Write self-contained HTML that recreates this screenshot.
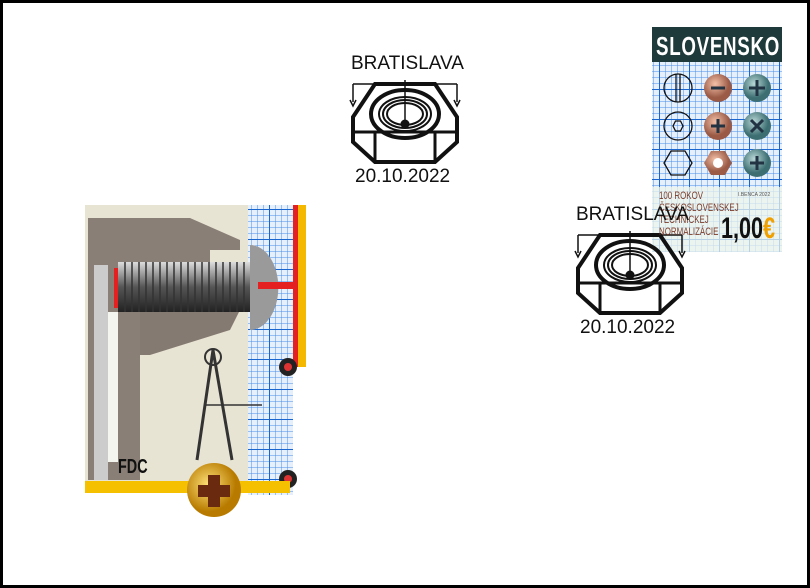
<!DOCTYPE html>
<html><head><meta charset="utf-8"><style>
body{margin:0;width:810px;height:588px;overflow:hidden;background:#000}
#c{position:absolute;left:3px;top:3px;width:804px;height:582px;background:#fff}
.t{position:absolute;font-family:"Liberation Sans",sans-serif;font-size:19px;color:#111;white-space:nowrap}
.n{transform-origin:0 0;transform:scaleX(.72)}
</style></head><body><div id="c"></div>
<svg width="810" height="588" style="position:absolute;left:0;top:0">
<defs>
<pattern id="g" width="6" height="6" patternUnits="userSpaceOnUse"><rect width="6" height="6" fill="#e6f0fc"/><path d="M6 0V6H0" fill="none" stroke="#4a8ee6" stroke-width="1"/></pattern>
<pattern id="G" width="30" height="30" patternUnits="userSpaceOnUse"><rect width="30" height="30" fill="url(#g)"/><path d="M30 0V30H0" fill="none" stroke="#1a66d0" stroke-width="2"/></pattern>
<linearGradient id="th" x1="0" y1="0" x2="0" y2="1"><stop offset="0" stop-color="#ddd"/><stop offset=".5" stop-color="#555"/><stop offset="1" stop-color="#222"/></linearGradient>
<radialGradient id="gold" cx=".4" cy=".4"><stop offset="0" stop-color="#ffe27a"/><stop offset="1" stop-color="#b87b00"/></radialGradient>
<radialGradient id="cu" cx=".4" cy=".35"><stop offset="0" stop-color="#f4c0a8"/><stop offset="1" stop-color="#9a5a45"/></radialGradient>
<radialGradient id="tl" cx=".4" cy=".35"><stop offset="0" stop-color="#b8d6d6"/><stop offset="1" stop-color="#3d6f72"/></radialGradient>
<g id="nut" fill="none" stroke="#111" stroke-width="4">
<polygon points="-30,-38 30,-38 52,-5 52,20 30,40 -30,40 -52,20 -52,-5"/>
<line x1="-52" y1="10" x2="52" y2="10" stroke-width="3"/><line x1="-30" y1="10" x2="-30" y2="40" stroke-width="3"/><line x1="30" y1="10" x2="30" y2="40" stroke-width="3"/>
<ellipse cx="0" cy="-8" rx="34" ry="24"/><ellipse cx="0" cy="-8" rx="26" ry="17" stroke-width="2"/><ellipse cx="0" cy="-8" rx="22" ry="14" stroke-width="2"/><ellipse cx="0" cy="-8" rx="18" ry="11" stroke-width="2"/>
<line x1="0" y1="-42" x2="0" y2="2" stroke-width="1.5"/><circle cx="0" cy="2" r="2.5" fill="#111"/>
<path d="M-52,-38H52M-52,-38V-20M52,-38V-20" stroke-width="1.5"/><path d="M-55,-22 -52,-16 -49,-22M49,-22 52,-16 55,-22" stroke-width="1.5"/>
</g>
</defs>
<rect x="85" y="205" width="165" height="288" fill="#e8e4d4"/>
<rect x="248" y="205" width="45" height="290" fill="url(#G)"/>
<rect x="293" y="205" width="5" height="162" fill="#e52020"/><rect x="298" y="205" width="8" height="162" fill="#f5b800"/>
<polygon points="88,218 190,218 240,240 240,250 210,250 210,262 140,262 140,480 88,480" fill="#8a7f76"/>
<polygon points="140,310 240,310 230,330 150,355 140,355" fill="#857a72"/>
<rect x="94" y="265" width="14" height="215" fill="#ccc"/><rect x="108" y="312" width="10" height="150" fill="#f5f5f0"/>
<rect x="118" y="262" width="140" height="50" fill="url(#th)"/>
<g stroke="#333" stroke-width="1.5"><path d="M125 262v50M132 262v50M139 262v50M146 262v50M153 262v50M160 262v50M167 262v50M174 262v50M181 262v50M188 262v50M195 262v50M202 262v50M209 262v50M216 262v50M223 262v50M230 262v50M237 262v50M244 262v50M251 262v50"/></g>
<rect x="114" y="268" width="4" height="40" fill="#e52020"/>
<path d="M250 245 A28 42 0 0 1 250 330Z" fill="#9a9a9a"/>
<rect x="258" y="282" width="36" height="7" fill="#e52020"/>
<circle cx="288" cy="367" r="9" fill="#222"/><circle cx="288" cy="367" r="4" fill="#d33"/>
<circle cx="288" cy="479" r="9" fill="#222"/><circle cx="288" cy="479" r="4" fill="#d33"/>
<path d="M213 350 L197 460 M213 350 L232 460" stroke="#333" stroke-width="3"/><circle cx="213" cy="357" r="8" fill="none" stroke="#333" stroke-width="2"/>
<line x1="206" y1="405" x2="262" y2="405" stroke="#333" stroke-width="1.5"/>
<rect x="85" y="481" width="205" height="12" fill="#f5c000"/>
<circle cx="214" cy="490" r="27" fill="url(#gold)"/><path d="M208 475h12v10h10v12h-10v10h-12v-10h-10v-12h10z" fill="#6a2a10"/>
<rect x="652" y="27" width="130" height="225" fill="url(#G)"/>
<rect x="652" y="187" width="130" height="65" fill="#eef5ec" opacity=".75"/>
<rect x="652" y="27" width="130" height="35" fill="#1f3a3a"/>
<g fill="none" stroke="#111" stroke-width="1.3"><circle cx="678" cy="88" r="14"/><line x1="676" y1="74" x2="676" y2="102"/><line x1="680" y1="74" x2="680" y2="102"/><circle cx="678" cy="126" r="14"/><polygon points="673,126 675.5,121 680.5,121 683,126 680.5,131 675.5,131"/><polygon points="664,163 671,151 685,151 692,163 685,175 671,175"/></g>
<circle cx="718" cy="88" r="14" fill="url(#cu)"/><circle cx="718" cy="126" r="14" fill="url(#cu)"/><polygon points="704,163 711,151 725,151 732,163 725,175 711,175" fill="url(#cu)"/><circle cx="718" cy="163" r="5" fill="#fff"/>
<circle cx="757" cy="88" r="14" fill="url(#tl)"/><circle cx="757" cy="126" r="14" fill="url(#tl)"/><circle cx="757" cy="163" r="14" fill="url(#tl)"/>
<g stroke="#234" stroke-width="3"><path d="M711 88h14M749 88h16M757 80v16M711 126h14M718 119v14M751 120l12 12M763 120l-12 12M750 163h14M757 156v14"/></g>
<use href="#nut" x="405" y="122"/>
<use href="#nut" x="630" y="273"/>
</svg>
<div class="t n" style="left:656px;top:31px;font-size:26px;color:#fff;font-weight:bold;letter-spacing:1px">SLOVENSKO</div>
<div class="t n" style="left:659px;top:190px;font-size:11px;color:#7a3b2a;line-height:12px">100 ROKOV<br>ČESKOSLOVENSKEJ<br>TECHNICKEJ<br>NORMALIZÁCIE</div>
<div class="t" style="left:738px;top:192px;font-size:5px;color:#555">I.BENCA 2022</div>
<div class="t n" style="left:721px;top:212px;font-size:30px;font-weight:bold;color:#111">1,00<span style="color:#f0a000">€</span></div>
<div class="t" style="left:351px;top:53px">BRATISLAVA</div>
<div class="t" style="left:355px;top:166px">20.10.2022</div>
<div class="t" style="left:576px;top:204px">BRATISLAVA</div>
<div class="t" style="left:580px;top:317px">20.10.2022</div>
<div class="t n" style="left:118px;top:456px;font-size:20px;font-weight:bold">FDC</div>
</body></html>
